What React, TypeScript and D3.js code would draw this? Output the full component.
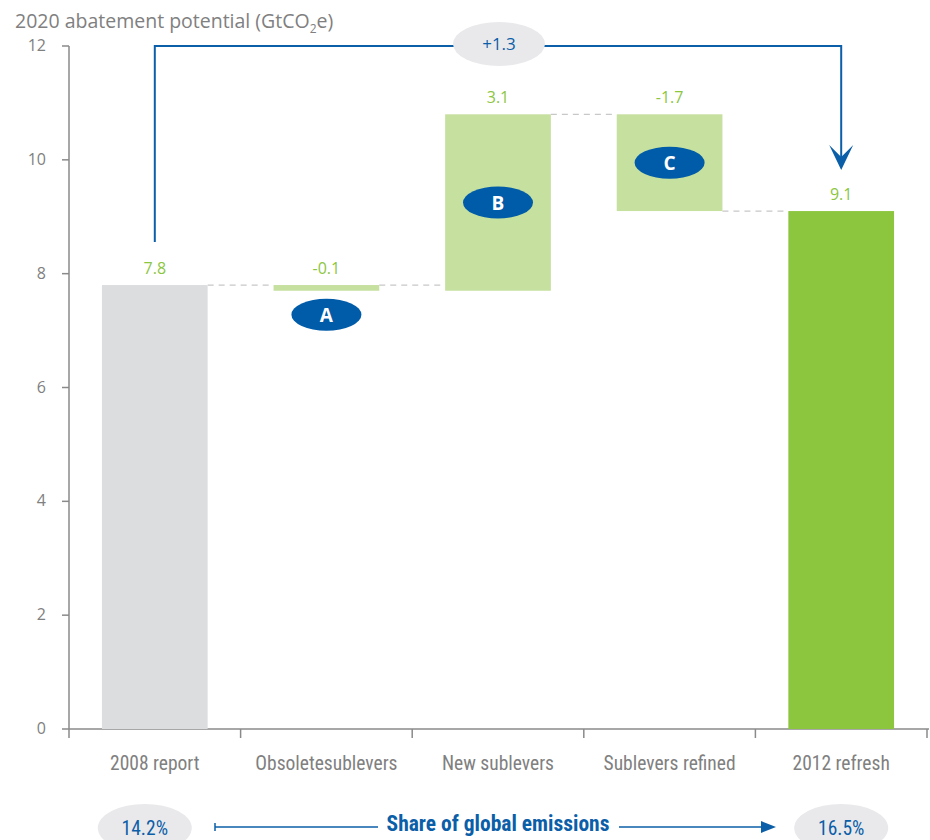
import React from "react";
import * as d3 from "d3";

const categories = ["2008 report", "Obsoletesublevers", "New sublevers", "Sublevers refined", "2012 refresh"];
const changes = [7.8, -0.1, 3.1, -1.7, 9.1];
const isTotal = [true, false, false, false, true];
const valueLabels = ["7.8", "-0.1", "3.1", "-1.7", "9.1"];
const badges = ["", "A", "B", "C", ""];
const yTicks = [0, 2, 4, 6, 8, 10, 12];
const overallChange = "+1.3";
const shareStart = "14.2%";
const shareEnd = "16.5%";
const shareLabel = "Share of global emissions";

const W = 930, H = 840;
const FONT = "'Liberation Sans Narrow', 'Roboto Condensed', Roboto, sans-serif";
const SANS = "'Open Sans', 'Noto Sans', sans-serif";
const GRAY_TEXT = "#808080";
const AXIS = "#8a8a8a";
const BLUE = "#0b5ea8";
const BADGE = "#005ba8";

export default function App() {
  const x = d3.scaleBand<string>().domain(categories).range([69, 927]).paddingInner(0.384).paddingOuter(0.192);
  const y = d3.scaleLinear().domain([0, 12]).range([729, 46]);
  const step = x.step();
  const bw = x.bandwidth();

  let running = 0;
  const segs = categories.map((c, i) => {
    let start: number, end: number;
    if (isTotal[i]) {
      start = 0; end = changes[i]; running = changes[i];
    } else {
      start = running; end = running + changes[i]; running = end;
    }
    const lo = Math.min(start, end), hi = Math.max(start, end);
    return { c, i, lo, hi, start, end };
  });
  const colors = ["#dcdddf", "#c6e09f", "#c6e09f", "#c6e09f", "#8cc63f"];

  const cx = (c: string) => (x(c) as number) + bw / 2;
  const firstTop = y(segs[0].hi);
  const lastTop = y(segs[4].hi);
  const arrowY = y(12);
  const bottomY = 827;

  return (
    <svg width={W} height={H} style={{ position: "absolute", left: 0, top: 0, background: "#fff" }} fontFamily={FONT}>
      <text x={15} y={28} fontSize={19.5} fill={GRAY_TEXT} fontFamily={SANS}>
        2020 abatement potential (GtCO<tspan fontSize={12} dy={5}>2</tspan><tspan dy={-5}>e)</tspan>
      </text>

      <line x1={69} x2={69} y1={y(12)} y2={y(0)} stroke={AXIS} strokeWidth={1.5} />
      {yTicks.map((t) => (
        <g key={t}>
          <line x1={62} x2={69} y1={y(t)} y2={y(t)} stroke={AXIS} strokeWidth={1.5} />
          <text x={46} y={y(t) + 5} textAnchor="end" fontSize={16} fill={GRAY_TEXT} fontFamily={SANS}>{t}</text>
        </g>
      ))}

      <line x1={69} x2={929} y1={y(0)} y2={y(0)} stroke={AXIS} strokeWidth={1.5} />
      {d3.range(categories.length + 1).map((k) => (
        <line key={k} x1={69 + k * step} x2={69 + k * step} y1={y(0)} y2={y(0) + 9} stroke={AXIS} strokeWidth={1.5} />
      ))}
      {categories.map((c) => (
        <text key={c} x={cx(c)} y={770} textAnchor="middle" fontSize={19.5} fill={GRAY_TEXT}>{c}</text>
      ))}

      {segs.slice(0, -1).map((s, i) => {
        const next = segs[i + 1];
        const level = i === 0 || i === 1 ? segs[0].hi : s.end;
        return (
          <line key={"c" + i} x1={(x(s.c) as number) + bw} x2={x(next.c) as number} y1={y(level)} y2={y(level)}
            stroke="#c8c8c8" strokeWidth={1.2} strokeDasharray="6,5" />
        );
      })}

      {segs.map((s) => (
        <rect key={s.c} x={x(s.c)} y={y(s.hi)} width={bw} height={Math.max(3, y(s.lo) - y(s.hi))} fill={colors[s.i]} />
      ))}

      {segs.map((s) => (
        <text key={"v" + s.c} x={cx(s.c)} y={y(s.hi) - 11} textAnchor="middle" fontSize={16} fill="#8cc63f" fontFamily={SANS}>{valueLabels[s.i]}</text>
      ))}

      {segs.map((s) => {
        if (!badges[s.i]) return null;
        const by = s.hi - s.lo < 0.5 ? y(s.lo) + 24 : (y(s.lo) + y(s.hi)) / 2;
        return (
          <g key={"b" + s.c}>
            <ellipse cx={cx(s.c)} cy={by} rx={35} ry={16} fill={BADGE} />
            <text x={cx(s.c)} y={by + 7} textAnchor="middle" fontSize={19} fontWeight="bold" fill="#fff" fontFamily={SANS}>{badges[s.i]}</text>
          </g>
        );
      })}

      <path d={`M${cx(categories[0])},${firstTop - 43} V${arrowY} H${cx(categories[4])} V${lastTop - 48}`} fill="none" stroke={BLUE} strokeWidth={2} />
      <path d={`M${cx(categories[4]) - 12},${lastTop - 66} L${cx(categories[4])},${lastTop - 41} L${cx(categories[4]) + 12},${lastTop - 66} L${cx(categories[4])},${lastTop - 54} Z`} fill={BLUE} />
      <ellipse cx={499} cy={arrowY - 2} rx={46} ry={22} fill="#e9e9eb" />
      <text x={499} y={arrowY + 4} textAnchor="middle" fontSize={17} fill={BLUE} fontFamily={SANS}>{overallChange}</text>

      <ellipse cx={cx(categories[0]) - 10} cy={bottomY + 1} rx={47} ry={24} fill="#e9e9eb" />
      <text x={cx(categories[0]) - 10} y={bottomY + 8} textAnchor="middle" fontSize={19.5} fill={BLUE}>{shareStart}</text>
      <ellipse cx={cx(categories[4])} cy={bottomY + 1} rx={47} ry={24} fill="#e9e9eb" />
      <text x={cx(categories[4])} y={bottomY + 8} textAnchor="middle" fontSize={19.5} fill={BLUE}>{shareEnd}</text>
      <line x1={215} x2={378} y1={bottomY} y2={bottomY} stroke={BLUE} strokeWidth={1.5} />
      <line x1={215} x2={215} y1={bottomY - 4} y2={bottomY + 4} stroke={BLUE} strokeWidth={1.5} />
      <line x1={619} x2={763} y1={bottomY} y2={bottomY} stroke={BLUE} strokeWidth={1.5} />
      <path d={`M761,${bottomY - 6} L776,${bottomY} L761,${bottomY + 6} Z`} fill={BLUE} />
      <text x={498} y={bottomY + 4} textAnchor="middle" fontSize={21.5} fontWeight="bold" fill={BLUE}>{shareLabel}</text>
    </svg>
  );
}
